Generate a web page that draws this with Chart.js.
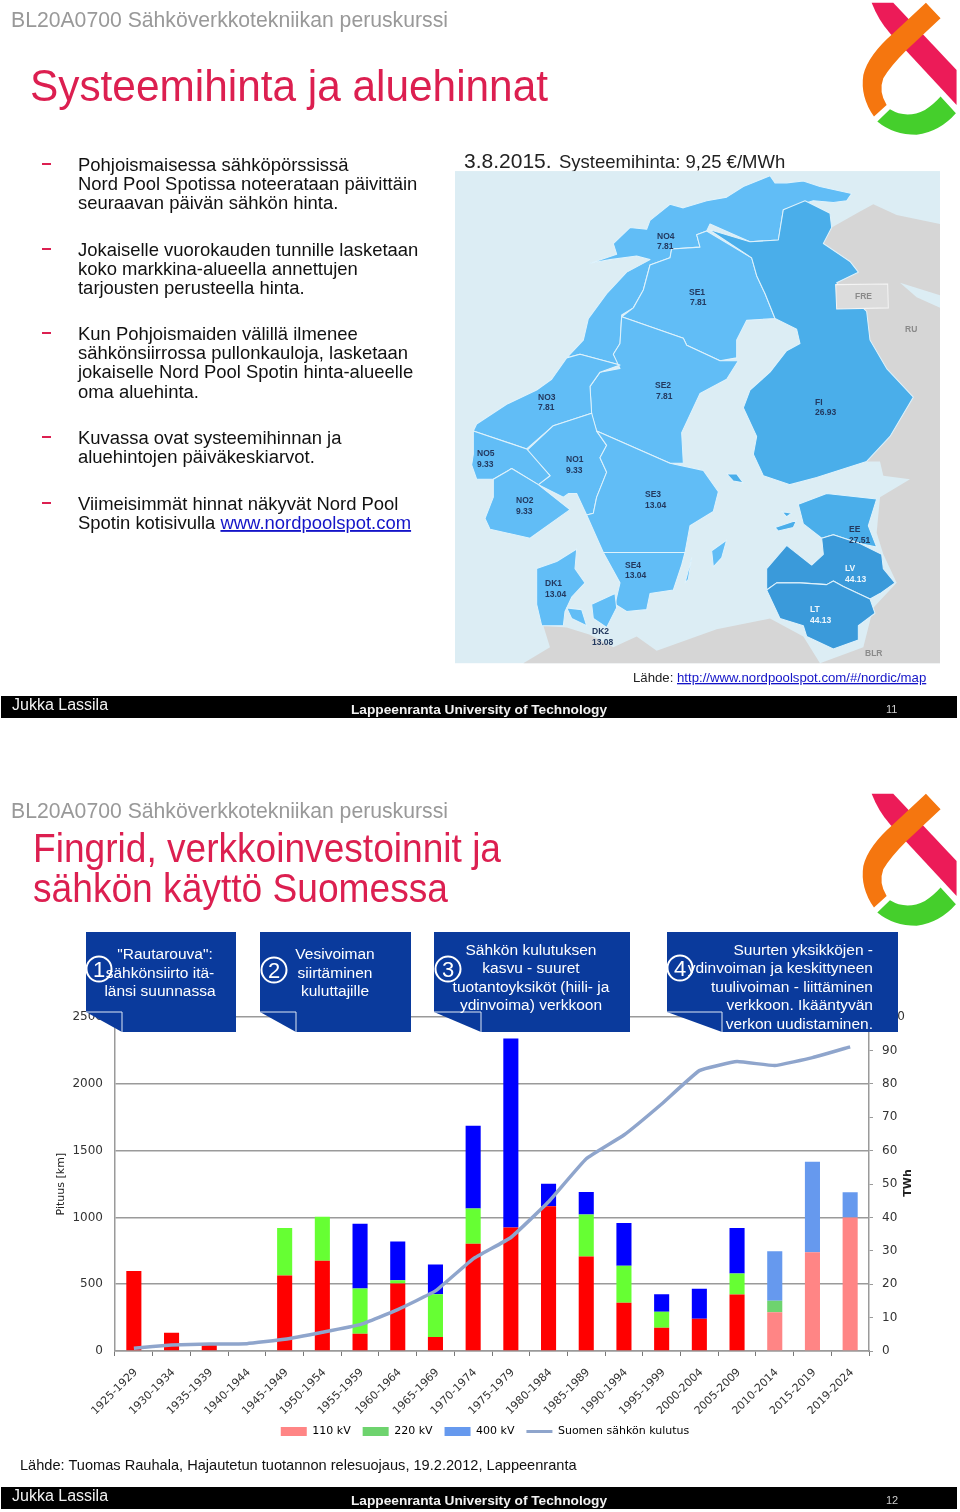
<!DOCTYPE html>
<html>
<head>
<meta charset="utf-8">
<style>
    html, body { margin: 0; padding: 0; background: #fff; }
    #page { position: relative; width: 960px; height: 1512px; overflow: hidden; font-family: "Liberation Sans", Arial, sans-serif; }
    #lines-chart { position: absolute; left: 0; top: 998px; }
    #sheet { position: absolute; left: 0; top: 0; }
</style>
</head>
<body>
<div id="page">
    <canvas id="lines-chart" width="960" height="449"></canvas>
    <svg id="sheet" width="960" height="1512" xmlns="http://www.w3.org/2000/svg">
        <defs>
            <g id="logo">
                <path fill="#ec1b58" d="M65 8 L130 8 L320 210 L320 315 L120 100 Q85 60 65 8 Z"/>
                <path fill="#f5760f" d="M228 8 L272 55 L170 150 Q120 200 100 235 Q85 275 110 315 L72 350 Q30 290 40 225 Q55 165 130 100 Z"/>
                <path fill="#45cf2c" d="M120 328 Q170 358 225 330 Q250 315 272 290 L318 340 Q270 395 200 405 Q130 405 82 365 Z"/>
            </g>
        </defs>

        <!-- slide 11 -->
        <text x="11" y="27" font-size="21.2" fill="#999">BL20A0700 Sähköverkkotekniikan peruskurssi</text>
        <text x="30" y="101" font-size="44" fill="#dc1f50" textLength="518" lengthAdjust="spacingAndGlyphs">Systeemihinta ja aluehinnat</text>
        <use href="#logo" transform="translate(850 0) scale(0.333)"/>

        <g font-size="18.45" fill="#111">
            <text x="78" y="171">Pohjoismaisessa sähköpörssissä</text>
            <text x="78" y="190">Nord Pool Spotissa noteerataan päivittäin</text>
            <text x="78" y="209">seuraavan päivän sähkön hinta.</text>
            <text x="78" y="256">Jokaiselle vuorokauden tunnille lasketaan</text>
            <text x="78" y="275">koko markkina-alueella annettujen</text>
            <text x="78" y="294">tarjousten perusteella hinta.</text>
            <text x="78" y="340">Kun Pohjoismaiden välillä ilmenee</text>
            <text x="78" y="359">sähkönsiirrossa pullonkauloja, lasketaan</text>
            <text x="78" y="378">jokaiselle Nord Pool Spotin hinta-alueelle</text>
            <text x="78" y="398">oma aluehinta.</text>
            <text x="78" y="444">Kuvassa ovat systeemihinnan ja</text>
            <text x="78" y="463">aluehintojen päiväkeskiarvot.</text>
            <text x="78" y="510">Viimeisimmät hinnat näkyvät Nord Pool</text>
            <text x="78" y="529">Spotin kotisivulla <tspan fill="#1414c8" text-decoration="underline">www.nordpoolspot.com</tspan></text>
        </g>
        <g fill="#dc1f50">
            <rect x="42" y="163" width="9" height="2"/>
            <rect x="42" y="248" width="9" height="2"/>
            <rect x="42" y="332" width="9" height="2"/>
            <rect x="42" y="436" width="9" height="2"/>
            <rect x="42" y="502" width="9" height="2"/>
        </g>

        <text x="464" y="168" font-size="21" fill="#222">3.8.2015.<tspan x="559" font-size="18.5">Systeemihinta: 9,25 €/MWh</tspan></text>

        <!-- map, drawn in its own viewBox -->
        <svg x="450" y="140" width="510" height="560" viewBox="0 0 1530 1568" preserveAspectRatio="none">
            <rect x="15" y="87" width="1455" height="1378" fill="#dcedf4"/>
            <polygon fill="#d6d6d6" points="1470,235 1340,210 1270,180 1230,200 1145,245 1120,290 1200,340 1225,370 1160,400 1250,480 1260,560 1310,640 1390,720 1320,830 1250,900 1290,900 1300,940 1380,950 1290,1000 1280,1100 1300,1160 1340,1240 1270,1310 1240,1420 1110,1465 1470,1465"/>
            <polygon fill="#dcedf4" points="1350,400 1470,435 1470,470 1400,440"/>
            <polygon fill="#d6d6d6" points="280,1360 350,1365 420,1385 490,1420 560,1390 620,1430 800,1370 960,1340 1060,1390 1110,1465 220,1465 300,1420"/>
            <g fill="#61bdf6" stroke="#dff2fb" stroke-width="3" stroke-linejoin="round">
                <polygon points="420,345 500,320 490,290 540,245 590,250 600,225 660,180 700,190 770,170 830,160 880,130 960,100 975,120 1010,120 1060,115 1110,130 1205,150 1190,170 1150,175 1090,170 1000,195 985,280 900,285 780,235 770,255 740,265 750,300 665,305 660,330 600,350 580,420 550,470 515,490 510,570 490,600 510,630 390,600 350,610 400,560 415,500 470,430 530,370 600,335 560,325 480,335"/>
                <polygon points="770,255 905,330 920,380 945,430 975,500 890,505 860,560 860,610 810,618 710,575 700,555 515,495 550,470 580,420 600,350 660,330 665,305 750,300 740,265"/>
                <polygon points="515,495 700,555 710,575 810,618 865,618 830,670 750,710 695,820 700,905 660,905 440,815 425,770 420,690 450,650 510,640 490,600 510,570"/>
                <polygon points="510,630 450,650 420,690 425,765 310,800 230,865 70,815 80,795 170,740 260,700 305,670 350,610 390,600"/>
                <polygon points="425,765 440,815 470,855 450,890 470,930 440,1000 430,1045 410,1050 380,990 355,990 340,1000 265,965 300,940 230,870 310,800"/>
                <polygon points="70,815 230,865 300,940 265,965 185,920 130,950 80,950 65,910 70,880"/>
                <polygon points="185,920 265,965 360,1035 240,1115 120,1090 105,1060 130,1000 130,950"/>
                <polygon points="440,815 660,905 760,925 805,985 790,1040 720,1080 705,1155 460,1155 410,1050 430,1045 440,1000 470,930 450,890 470,855"/>
                <polygon points="460,1155 705,1155 695,1190 670,1260 600,1270 590,1315 530,1320 495,1300 510,1240"/>
                <polygon points="260,1200 320,1180 380,1145 375,1200 405,1240 365,1280 345,1320 340,1360 275,1360 260,1300"/>
                <polygon points="350,1310 395,1315 410,1360 365,1340"/>
                <polygon points="425,1300 495,1270 500,1310 470,1365 430,1340"/>
                <polygon points="830,1120 785,1150 790,1195 815,1170"/>
                <polygon points="725,1170 705,1240 715,1230"/>
            </g>
            <g fill="#4aaeea" stroke="#dff2fb" stroke-width="3" stroke-linejoin="round">
                <polygon points="775,250 900,285 985,280 1000,195 1065,170 1140,205 1145,245 1120,290 1200,340 1225,370 1160,400 1250,480 1260,560 1310,640 1390,720 1320,830 1250,900 1100,945 1020,965 940,940 910,880 920,830 880,750 900,700 960,650 1010,590 1050,570 1040,530 975,500 945,430 920,380 905,330"/>
                <polygon points="1045,1020 1130,990 1280,1005 1255,1080 1280,1140 1230,1130 1150,1105 1115,1115 1060,1075"/>
                <polygon points="830,935 860,935 880,960 850,955"/>
                <polygon points="995,1040 1025,1045 1010,1055"/>
                <polygon points="975,1085 1040,1065 1030,1085 985,1095"/>
            </g>
            <g fill="#3a9ada" stroke="#dff2fb" stroke-width="3" stroke-linejoin="round">
                <polygon points="950,1200 1010,1135 1085,1190 1120,1160 1115,1115 1150,1105 1230,1130 1295,1160 1300,1200 1335,1240 1290,1270 1260,1285 1180,1250 1150,1235 1130,1245 1050,1240 980,1240 950,1260"/>
                <polygon points="950,1260 980,1240 1050,1240 1130,1245 1150,1235 1180,1250 1260,1285 1275,1325 1225,1360 1225,1400 1150,1425 1070,1390 1060,1360 990,1340"/>
            </g>
            <polygon fill="#dcdcdc" stroke="#f4f4f4" stroke-width="3" points="1157,405 1313,403 1315,470 1160,473"/>
        </svg>

        <g font-size="8.5" font-weight="bold" fill="#23395f">
            <text x="657" y="239">NO4</text><text x="657" y="249">7.81</text>
            <text x="689" y="295">SE1</text><text x="690" y="305">7.81</text>
            <text x="538" y="400">NO3</text><text x="538" y="410">7.81</text>
            <text x="655" y="388">SE2</text><text x="656" y="399">7.81</text>
            <text x="815" y="405">FI</text><text x="815" y="415">26.93</text>
            <text x="477" y="456">NO5</text><text x="477" y="467">9.33</text>
            <text x="566" y="462">NO1</text><text x="566" y="473">9.33</text>
            <text x="516" y="503">NO2</text><text x="516" y="514">9.33</text>
            <text x="645" y="497">SE3</text><text x="645" y="508">13.04</text>
            <text x="625" y="568">SE4</text><text x="625" y="578">13.04</text>
            <text x="545" y="586">DK1</text><text x="545" y="597">13.04</text>
            <text x="592" y="634">DK2</text><text x="592" y="645">13.08</text>
            <text x="849" y="532">EE</text><text x="849" y="543">27.51</text>
        </g>
        <g font-size="8.5" font-weight="bold" fill="#eef7fd">
            <text x="845" y="571">LV</text><text x="845" y="582">44.13</text>
            <text x="810" y="612">LT</text><text x="810" y="623">44.13</text>
        </g>
        <g font-size="8.5" font-weight="bold" fill="#8a8a8a">
            <text x="855" y="299">FRE</text>
            <text x="905" y="332">RU</text>
            <text x="865" y="656">BLR</text>
        </g>

        <text x="633" y="682" font-size="13.2" fill="#222">Lähde: <tspan fill="#1414c8" text-decoration="underline">http://www.nordpoolspot.com/#/nordic/map</tspan></text>

        <rect x="1" y="696" width="956" height="22" fill="#000"/>
        <text x="12" y="710" font-size="16" fill="#f2f2f2">Jukka Lassila</text>
        <text x="351" y="714" font-size="13.7" font-weight="bold" fill="#f2f2f2">Lappeenranta University of Technology</text>
        <text x="886" y="713" font-size="11" fill="#ccc">11</text>

        <!-- slide 12 -->
        <text x="11" y="818" font-size="21.2" fill="#999">BL20A0700 Sähköverkkotekniikan peruskurssi</text>
        <text x="33" y="862" font-size="40" fill="#dc1f50" textLength="468" lengthAdjust="spacingAndGlyphs">Fingrid, verkkoinvestoinnit ja</text>
        <text x="33" y="902" font-size="40" fill="#dc1f50" textLength="415" lengthAdjust="spacingAndGlyphs">sähkön käyttö Suomessa</text>
        <use href="#logo" transform="translate(850 791) scale(0.333)"/>

        <text transform="translate(911 1183) rotate(-90)" font-family="DejaVu Sans" font-size="11" font-weight="bold" fill="#222" text-anchor="middle">TWh</text>

        <!-- callout boxes over the chart -->
        <g fill="#0a3a9c">
            <polygon points="86,932 236,932 236,1032 122,1032 122,1012 86,1012"/>
            <polygon points="260,932 411,932 411,1032 296,1032 296,1012 260,1012"/>
            <polygon points="434,932 630,932 630,1032 481,1032 481,1012 434,1012"/>
            <polygon points="667,932 898,932 898,1032 722,1032 722,1012 667,1012"/>
            <polygon points="86,1012 122,1012 122,1032"/>
            <polygon points="260,1012 296,1012 296,1032"/>
            <polygon points="434,1012 481,1012 481,1032"/>
            <polygon points="667,1012 722,1012 722,1032"/>
        </g>
        <g fill="none" stroke="#dfe8f5" stroke-width="1">
            <polyline points="86,1012 122,1012 122,1032"/>
            <polyline points="260,1012 296,1012 296,1032"/>
            <polyline points="434,1012 481,1012 481,1032"/>
            <polyline points="667,1012 722,1012 722,1032"/>
            <g stroke="#fff" stroke-width="2">
                <circle cx="99" cy="969" r="12.5"/>
                <circle cx="274" cy="970" r="12.5"/>
                <circle cx="448" cy="969" r="12.5"/>
                <circle cx="680" cy="968" r="12.5"/>
            </g>
        </g>
        <g font-size="22" fill="#fff" text-anchor="middle">
            <text x="99" y="977">1</text>
            <text x="274" y="978">2</text>
            <text x="448" y="977">3</text>
            <text x="680" y="976">4</text>
        </g>
        <g font-size="15.5" fill="#fff" text-anchor="middle">
            <text x="165" y="959">"Rautarouva":</text>
            <text x="160" y="978">sähkönsiirto itä-</text>
            <text x="160" y="996">länsi suunnassa</text>
            <text x="335" y="959">Vesivoiman</text>
            <text x="335" y="978">siirtäminen</text>
            <text x="335" y="996">kuluttajille</text>
            <text x="531" y="955">Sähkön kulutuksen</text>
            <text x="531" y="973">kasvu - suuret</text>
            <text x="531" y="992">tuotantoyksiköt (hiili- ja</text>
            <text x="531" y="1010">ydinvoima)  verkkoon</text>
        </g>
        <g font-size="15.5" fill="#fff" text-anchor="end">
            <text x="873" y="955">Suurten yksikköjen -</text>
            <text x="873" y="973">ydinvoiman ja keskittyneen</text>
            <text x="873" y="992">tuulivoiman - liittäminen</text>
            <text x="873" y="1010">verkkoon. Ikääntyvän</text>
            <text x="873" y="1029">verkon uudistaminen.</text>
        </g>

        <text x="20" y="1470" font-size="14.6" fill="#111">Lähde: Tuomas Rauhala, Hajautetun tuotannon relesuojaus, 19.2.2012, Lappeenranta</text>

        <rect x="1" y="1487" width="956" height="22" fill="#000"/>
        <text x="12" y="1501" font-size="16" fill="#f2f2f2">Jukka Lassila</text>
        <text x="351" y="1505" font-size="13.7" font-weight="bold" fill="#f2f2f2">Lappeenranta University of Technology</text>
        <text x="886" y="1504" font-size="11" fill="#ccc">12</text>
    </svg>
</div>

<script src="https://cdn.jsdelivr.net/npm/chart.js"></script>
<script>
const periods = ['1925-1929', '1930-1934', '1935-1939', '1940-1944', '1945-1949', '1950-1954', '1955-1959', '1960-1964', '1965-1969', '1970-1974', '1975-1979', '1980-1984', '1985-1989', '1990-1994', '1995-1999', '2000-2004', '2005-2009', '2010-2014', '2015-2019', '2019-2024'];
const km110 = [600, 136, 50, 0, 565, 675, 130, 505, 105, 803, 925, 1085, 707, 361, 175, 242, 424, 290, 740, 1000];
const km220 = [0, 0, 0, 0, 356, 331, 338, 25, 320, 265, 0, 0, 316, 278, 119, 0, 157, 86, 0, 0];
const km400 = [0, 0, 0, 0, 0, 0, 485, 290, 222, 619, 1415, 167, 167, 320, 131, 225, 341, 371, 677, 189];
const consumption = [0.8, 1.8, 2.1, 2.2, 3.5, 5.6, 7.9, 12.4, 18, 27.6, 34, 44.7, 57.6, 64.7, 74, 84, 86.7, 85.5, 87.9, 91.1];
const plannedFrom = 17; // last three periods are forecasts, drawn paler

const shade = (solid, pale) => periods.map((p, i) => i >= plannedFrom ? pale : solid);
const gridGrey = '#9a9a9a';
const textGrey = '#333';
const tickFont = { family: 'DejaVu Sans', size: 12 };

const ctx = document.getElementById('lines-chart').getContext('2d');
new Chart(ctx, {
    data: {
        labels: periods,
        datasets: [
            { type: 'line', label: 'Suomen sähkön kulutus', data: consumption, yAxisID: 'y1', order: 0, borderColor: '#8fa5cc', borderWidth: 3.5, pointRadius: 0, tension: 0.1 },
            { type: 'bar', label: '110 kV', data: km110, stack: 'km', order: 1, backgroundColor: shade('#ff0000', '#ff8585'), categoryPercentage: 1, barPercentage: 0.4 },
            { type: 'bar', label: '220 kV', data: km220, stack: 'km', order: 1, backgroundColor: shade('#66ff33', '#6ed36e'), categoryPercentage: 1, barPercentage: 0.4 },
            { type: 'bar', label: '400 kV', data: km400, stack: 'km', order: 1, backgroundColor: shade('#0000ff', '#6699ee'), categoryPercentage: 1, barPercentage: 0.4 }
        ]
    },
    options: {
        responsive: false,
        devicePixelRatio: 1,
        animation: false,
        layout: { padding: { top: 9, left: 10 } },
        plugins: {
            tooltip: { enabled: false },
            legend: {
                position: 'bottom',
                labels: {
                    color: '#444',
                    font: { family: 'DejaVu Sans', size: 11 },
                    usePointStyle: true,
                    pointStyleWidth: 26,
                    boxHeight: 9,
                    padding: 12,
                    generateLabels: () => [
                        { text: '110 kV', fillStyle: '#ff8585', strokeStyle: '#ff8585', lineWidth: 0, pointStyle: 'rect', datasetIndex: 1 },
                        { text: '220 kV', fillStyle: '#6ed36e', strokeStyle: '#6ed36e', lineWidth: 0, pointStyle: 'rect', datasetIndex: 2 },
                        { text: '400 kV', fillStyle: '#6699ee', strokeStyle: '#6699ee', lineWidth: 0, pointStyle: 'rect', datasetIndex: 3 },
                        { text: 'Suomen sähkön kulutus', fillStyle: '#8fa5cc', strokeStyle: '#8fa5cc', lineWidth: 3, pointStyle: 'line', datasetIndex: 0 }
                    ]
                }
            }
        },
        scales: {
            x: {
                stacked: true,
                afterFit: (scale) => { scale.height = 63; },
                border: { color: gridGrey, width: 1.5 },
                grid: { drawOnChartArea: false, color: '#777', tickLength: 5 },
                ticks: { color: textGrey, font: { family: 'DejaVu Sans', size: 11 }, autoSkip: false, minRotation: 45, maxRotation: 45, padding: 10, labelOffset: 2 }
            },
            y: {
                stacked: true,
                min: 0,
                max: 2500,
                afterFit: (scale) => { scale.width = 105; },
                border: { color: gridGrey, width: 1.5 },
                grid: { color: gridGrey, lineWidth: 1.5, tickLength: 0 },
                ticks: { color: textGrey, font: tickFont, stepSize: 500, padding: 12, callback: (v) => v },
                title: { display: true, text: 'Pituus [km]', color: '#222', font: { family: 'DejaVu Sans', size: 11 }, padding: { top: 45 } }
            },
            y1: {
                position: 'right',
                min: 0,
                max: 100,
                afterFit: (scale) => { scale.width = 91; },
                border: { color: gridGrey, width: 1.5 },
                grid: { drawOnChartArea: false, color: gridGrey, tickLength: 4 },
                ticks: { color: textGrey, font: tickFont, stepSize: 10, padding: 9 }
            }
        }
    }
});
</script>
</body>
</html>
